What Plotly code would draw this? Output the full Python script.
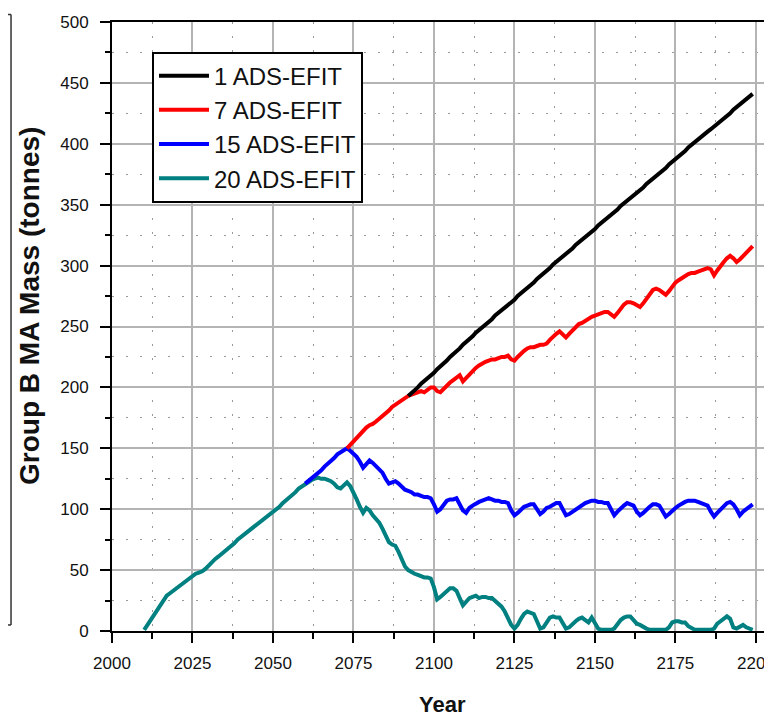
import plotly.graph_objects as go

# ---------------- data ----------------
series_names = ["1 ADS-EFIT", "7 ADS-EFIT", "15 ADS-EFIT", "20 ADS-EFIT"]
series_colors = ["#000000", "#ff0000", "#0000ff", "#008080"]

start_20 = 2010
mass_20 = [
    1, 5, 10, 14, 18, 22, 26, 29, 31, 33,
    35, 38, 40, 42, 44, 45, 47, 48, 49, 51,
    54, 57, 59, 61, 63, 65, 68, 70, 72, 75,
    77, 79, 81, 83, 85, 87, 90, 92, 94, 96,
    98, 100, 102, 105, 107, 110, 112, 114, 117, 119,
    121, 123, 124, 125, 126, 125, 125, 124, 123, 121,
    118, 117, 120, 122, 119, 114, 108, 102, 97, 101,
    99, 95, 92, 89, 84, 78, 73, 71, 70, 65,
    58, 53, 50, 48, 47, 46, 45, 44, 44, 43,
    36, 26, 28, 30, 33, 35, 35, 33, 27, 21,
    24, 27, 28, 29, 27, 28, 28, 27, 27, 25,
    22, 20, 16, 10, 5, 2, 5, 10, 14, 16,
    15, 14, 8, 2, 3, 7, 11, 12, 11, 11,
    7, 2, 3, 6, 8, 10, 11, 9, 7, 11,
    6, 2, 1, 1, 1, 1, 2, 6, 9, 11,
    12, 12, 9, 6, 5, 3, 2, 1, 1, 1,
    1, 1, 1, 3, 7, 8, 8, 7, 7, 4,
    2, 1, 1, 1, 1, 1, 1, 2, 6, 8,
    10, 12, 10, 3, 2, 4, 5, 3, 2, 1,
]

start_15 = 2060
mass_15 = [
    121, 123, 125, 127, 130, 132, 135, 137, 140, 142,
    145, 147, 149, 150, 148, 146, 143, 139, 134, 137,
    140, 138, 135, 133, 130, 125, 121, 122, 123, 121,
    118, 116, 115, 114, 112, 112, 111, 110, 110, 109,
    104, 98, 100, 104, 107, 108, 108, 109, 104, 99,
    97, 101, 103, 105, 106, 107, 108, 109, 108, 107,
    107, 106, 106, 105, 99, 95, 97, 100, 102, 103,
    104, 104, 100, 96, 98, 101, 102, 104, 105, 105,
    100, 95, 96, 98, 100, 101, 103, 105, 106, 107,
    107, 106, 106, 105, 105, 100, 95, 98, 101, 103,
    105, 104, 103, 98, 95, 97, 100, 102, 104, 104,
    103, 99, 94, 96, 99, 101, 103, 105, 106, 107,
    107, 107, 106, 105, 104, 103, 98, 94, 97, 100,
    103, 105, 106, 104, 100, 95, 98, 100, 101, 104,
]

start_7 = 2073
mass_7 = [
    150, 153, 156, 158, 161, 164, 167,
    169, 170, 172, 174, 176, 179, 181, 184, 186, 188,
    189, 191, 193, 194, 195, 196, 197, 196, 198, 200,
    200, 197, 196, 199, 202, 204, 206, 208, 210, 205,
    208, 211, 214, 216, 218, 220, 221, 222, 223, 223,
    224, 225, 225, 226, 223, 222, 225, 228, 230, 232,
    233, 233, 234, 235, 235, 236, 239, 242, 244, 246,
    244, 241, 244, 247, 250, 252, 253, 255, 256, 258,
    259, 260, 261, 262, 262, 260, 258, 261, 265, 268,
    270, 270, 269, 267, 266, 269, 273, 277, 280, 281,
    280, 278, 276, 279, 283, 286, 288, 290, 292, 293,
    294, 294, 295, 296, 297, 298, 297, 292, 296, 300,
    303, 306, 308, 306, 303, 305, 308, 310, 313, 316,
]

start_1 = 2092
mass_1 = [
    193, 195, 198, 200, 203, 205, 208, 210,
    212, 215, 217, 220, 222, 225, 227, 230, 232, 235,
    237, 240, 242, 245, 247, 249, 252, 254, 256, 259,
    261, 263, 265, 268, 270, 272, 275, 277, 279, 282,
    284, 286, 289, 291, 294, 296, 298, 301, 303, 305,
    308, 310, 312, 314, 317, 319, 321, 324, 326, 328,
    330, 333, 335, 337, 339, 342, 344, 346, 349, 351,
    353, 355, 358, 360, 362, 364, 367, 369, 371, 374,
    376, 378, 380, 383, 385, 387, 390, 392, 394, 397,
    399, 401, 403, 406, 408, 410, 412, 414, 417, 419,
    421, 423, 425, 428, 430, 432, 434, 436, 439, 441,
]

x_tick_labels = ["2000", "2025", "2050", "2075", "2100", "2125", "2150", "2175", "2200"]
x_tick_vals = [2000, 2025, 2050, 2075, 2100, 2125, 2150, 2175, 2200]
y_tick_vals = [0, 50, 100, 150, 200, 250, 300, 350, 400, 450, 500]

# ---------------- figure ----------------
REG = "Liberation Sans, Arial, sans-serif"

fig = go.Figure()

# draw order: 20, 15, 7, 1 (later ones on top); legend order 1, 7, 15, 20
draw = [
    (3, start_20, mass_20),
    (2, start_15, mass_15),
    (1, start_7, mass_7),
    (0, start_1, mass_1),
]
for idx, start, vals in draw:
    fig.add_trace(go.Scatter(
        x=[start + i for i in range(len(vals))],
        y=vals,
        mode="lines",
        name=series_names[idx],
        line=dict(color=series_colors[idx], width=4),
        legendrank=idx + 1,
    ))

axis_common = dict(
    showline=True, linecolor="black", linewidth=2,
    ticks="outside", ticklen=10, tickwidth=2, tickcolor="black",
    showgrid=True, gridcolor="#b4b4b4", gridwidth=2,
    zeroline=False,
    tickfont=dict(family=REG, size=17, color="#111111"),
    ticklabeloverflow="allow",
)

fig.update_xaxes(
    range=[2000, 2205],
    tickvals=x_tick_vals, ticktext=x_tick_labels,
    mirror=True,
    minor=dict(dtick=12.5, tick0=2000, ticks="outside", ticklen=6, tickwidth=2,
               tickcolor="black", showgrid=True, gridcolor="#9a9a9a",
               gridwidth=1, griddash="2px,12px"),
    ticklabelstandoff=6,
    **axis_common,
)
fig.update_yaxes(
    range=[0, 500],
    tickvals=y_tick_vals,
    minor=dict(dtick=25, tick0=0, ticks="outside", ticklen=5, tickwidth=2,
               tickcolor="black", showgrid=True, gridcolor="#9a9a9a",
               gridwidth=1, griddash="2px,12px"),
    ticklabelstandoff=8,
    **axis_common,
)

# the page body adds an 8 px offset, so the figure is sized to fill the rest
fig.update_layout(
    width=764, height=710,
    margin=dict(l=104, r=0, t=14, b=87, autoexpand=False),
    plot_bgcolor="white", paper_bgcolor="white",
    showlegend=True,
    legend=dict(
        x=0.0606, y=0.9515, xanchor="left", yanchor="top",
        bgcolor="white", bordercolor="black", borderwidth=2,
        font=dict(family=REG, size=24, color="#111111"),
        itemwidth=50, tracegroupgap=0,
    ),
    annotations=[
        dict(text="<b>Year</b>", xref="paper", yref="paper", x=0.5, y=-0.12,
             xanchor="center", yanchor="middle", showarrow=False,
             font=dict(family=REG, size=22, color="#111111")),
        dict(text="<b>Group B MA Mass (tonnes)</b>", xref="paper", yref="paper",
             x=-0.124, y=0.534, xanchor="center", yanchor="middle", showarrow=False,
             textangle=-90, font=dict(family=REG, size=28, color="#111111")),
    ],
    shapes=[
        dict(type="line", xref="paper", yref="paper", x0=-0.153, x1=-0.153,
             y0=0.0099, y1=1.0123, line=dict(color="#333333", width=1.5)),
        dict(type="line", xref="paper", yref="paper", x0=-0.18, x1=-0.153,
             y0=1.0123, y1=1.0123, line=dict(color="#333333", width=1.5)),
        dict(type="line", xref="paper", yref="paper", x0=-0.18, x1=-0.153,
             y0=0.0099, y1=0.0099, line=dict(color="#333333", width=1.5)),
    ],
)

fig.write_html("out.html")
